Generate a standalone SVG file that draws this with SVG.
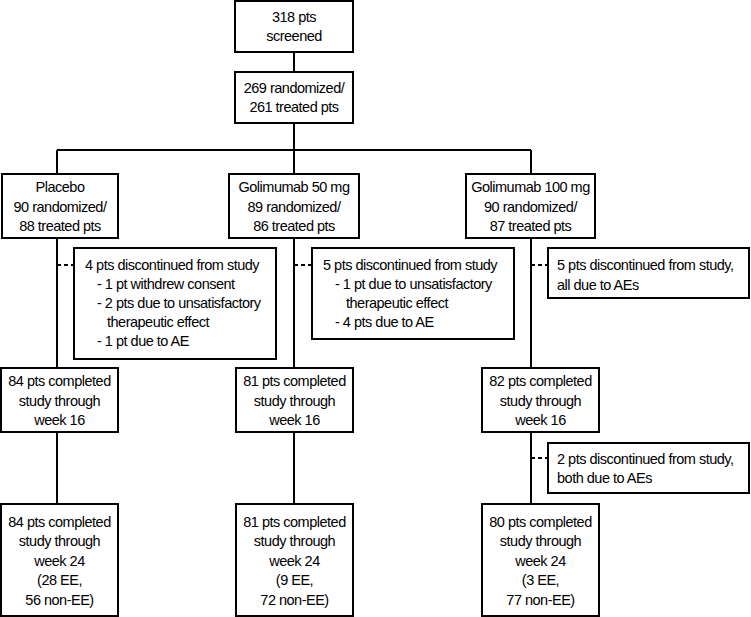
<svg xmlns="http://www.w3.org/2000/svg" width="751" height="617" viewBox="0 0 751 617">
<style>
rect{fill:#fff;stroke:#000;stroke-width:2}
text{font-family:"Liberation Sans",Arial,sans-serif;font-size:14.5px;letter-spacing:-0.5px;fill:#000}
.c{text-anchor:middle}
.ln{stroke:#000;stroke-width:2;fill:none}
.ds{stroke:#000;stroke-width:2;fill:none;stroke-dasharray:4 3}
</style>
<rect width="751" height="617" style="fill:#fff;stroke:none"/>
<g id="connectors">
<path class="ln" d="M294 52V72M294 123V174M57 150H531M57 150V174M531 150V174"/>
<path class="ln" d="M57 238V368M57 432V504M294 238V368M294 432V504M531 238V368M531 432V504"/>
<path class="ds" d="M57 265H74M294 265H312M531 265H548M531 458H548"/>
</g>
<g id="screened"><rect x="235" y="1" width="118" height="51"/>
<text class="c" x="294" y="22">318 pts</text><text class="c" x="294" y="41">screened</text></g>
<g id="randomized"><rect x="235" y="72" width="118" height="51"/>
<text class="c" x="294" y="93">269 randomized/</text><text class="c" x="294" y="112">261 treated pts</text></g>
<g id="placebo"><rect x="2" y="174" width="116" height="64"/>
<text class="c" x="60" y="192">Placebo</text><text class="c" x="60" y="212">90 randomized/</text><text class="c" x="60" y="231">88 treated pts</text></g>
<g id="gol50"><rect x="229" y="174" width="130" height="64"/>
<text class="c" x="294" y="192">Golimumab 50 mg</text><text class="c" x="294" y="212">89 randomized/</text><text class="c" x="294" y="231">86 treated pts</text></g>
<g id="gol100"><rect x="466" y="174" width="129" height="64"/>
<text class="c" x="530.5" y="192">Golimumab 100 mg</text><text class="c" x="530.5" y="212">90 randomized/</text><text class="c" x="530.5" y="231">87 treated pts</text></g>
<g id="disc-placebo"><rect x="74" y="248" width="202" height="111"/>
<text x="85" y="270">4 pts discontinued from study</text>
<text x="97" y="289">- 1 pt withdrew consent</text>
<text x="97" y="308">- 2 pts due to unsatisfactory</text>
<text x="107" y="327">therapeutic effect</text>
<text x="97" y="346">- 1 pt due to AE</text></g>
<g id="disc-gol50"><rect x="312" y="248" width="202" height="91"/>
<text x="323" y="270">5 pts discontinued from study</text>
<text x="335" y="289">- 1 pt due to unsatisfactory</text>
<text x="346" y="308">therapeutic effect</text>
<text x="335" y="327">- 4 pts due to AE</text></g>
<g id="disc-gol100"><rect x="548" y="248" width="201" height="50"/>
<text x="557" y="270">5 pts discontinued from study,</text>
<text x="557" y="290">all due to AEs</text></g>
<g id="wk16-placebo"><rect x="1" y="368" width="117" height="64"/>
<text class="c" x="59.5" y="386">84 pts completed</text><text class="c" x="59.5" y="406">study through</text><text class="c" x="59.5" y="425">week 16</text></g>
<g id="wk16-gol50"><rect x="236" y="368" width="117" height="64"/>
<text class="c" x="294.5" y="386">81 pts completed</text><text class="c" x="294.5" y="406">study through</text><text class="c" x="294.5" y="425">week 16</text></g>
<g id="wk16-gol100"><rect x="482" y="368" width="117" height="64"/>
<text class="c" x="540.5" y="386">82 pts completed</text><text class="c" x="540.5" y="406">study through</text><text class="c" x="540.5" y="425">week 16</text></g>
<g id="disc2-gol100"><rect x="548" y="443" width="201" height="50"/>
<text x="557" y="464">2 pts discontinued from study,</text>
<text x="557" y="483">both due to AEs</text></g>
<g id="wk24-placebo"><rect x="1" y="504" width="117" height="112"/>
<text class="c" x="59.5" y="527">84 pts completed</text><text class="c" x="59.5" y="546">study through</text><text class="c" x="59.5" y="566">week 24</text><text class="c" x="59.5" y="585">(28 EE,</text><text class="c" x="59.5" y="605">56 non-EE)</text></g>
<g id="wk24-gol50"><rect x="236" y="504" width="117" height="112"/>
<text class="c" x="294.5" y="527">81 pts completed</text><text class="c" x="294.5" y="546">study through</text><text class="c" x="294.5" y="566">week 24</text><text class="c" x="294.5" y="585">(9 EE,</text><text class="c" x="294.5" y="605">72 non-EE)</text></g>
<g id="wk24-gol100"><rect x="482" y="504" width="117" height="112"/>
<text class="c" x="540.5" y="527">80 pts completed</text><text class="c" x="540.5" y="546">study through</text><text class="c" x="540.5" y="566">week 24</text><text class="c" x="540.5" y="585">(3 EE,</text><text class="c" x="540.5" y="605">77 non-EE)</text></g>
</svg>
